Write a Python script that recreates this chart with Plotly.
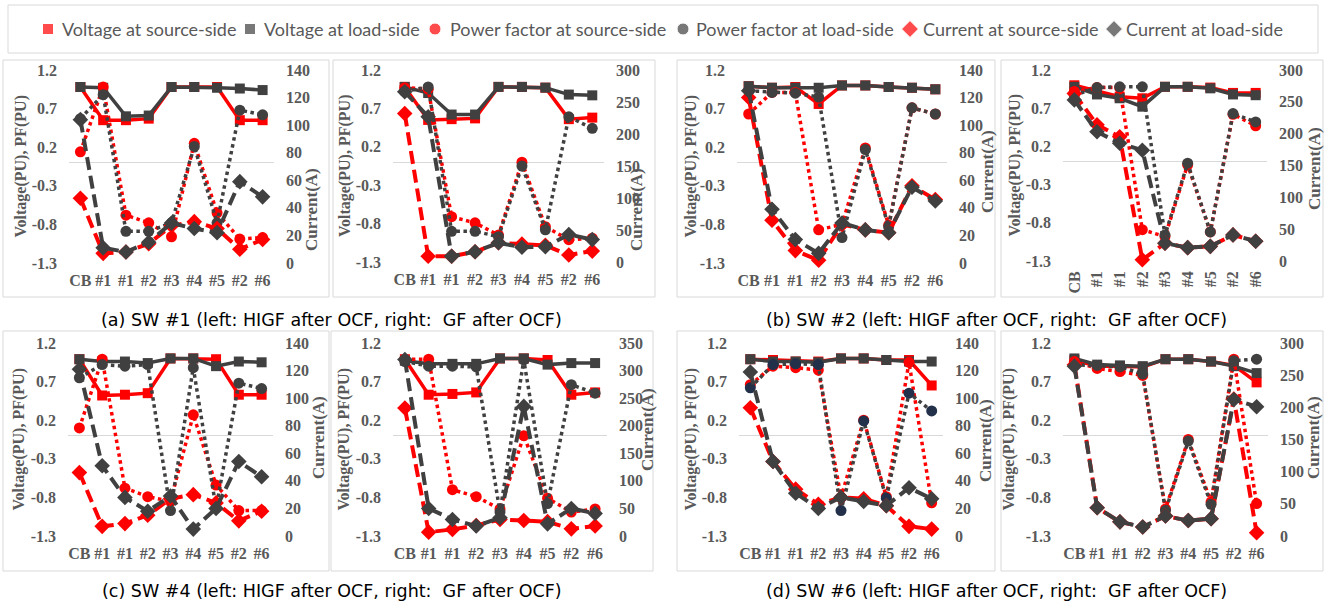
import plotly.graph_objects as go

W, H = 1327, 606

CATEGORIES = ["CB", "#1", "#1", "#2", "#3", "#4", "#5", "#2", "#6"]
LEFT_TICKS = [-1.3, -0.8, -0.3, 0.2, 0.7, 1.2]
SERIES_NAMES = ["Voltage at source-side", "Voltage at load-side",
                "Power factor at source-side", "Power factor at load-side",
                "Current at source-side", "Current at load-side"]
CAPTIONS = ["(a) SW #1 (left: HIGF after OCF, right:\u00a0 GF after OCF)",
            "(b) SW #2 (left: HIGF after OCF, right:\u00a0 GF after OCF)",
            "(c) SW #4 (left: HIGF after OCF, right:\u00a0 GF after OCF)",
            "(d) SW #6 (left: HIGF after OCF, right:\u00a0 GF after OCF)"]
LEFT_TITLE = "Voltage(PU), PF(PU)"
RIGHT_TITLE = "Current(A)"

A1_V_SRC = [0.98, 0.55, 0.55, 0.57, 0.98, 0.98, 0.98, 0.55, 0.55]
A1_V_LOAD = [0.98, 0.97, 0.60, 0.61, 0.98, 0.98, 0.97, 0.96, 0.94]
A1_PF_SRC = [0.14, 0.98, -0.68, -0.78, -0.96, 0.25, -0.65, -0.99, -0.97]
A1_PF_LOAD = [0.57, 0.88, -0.89, -0.89, -0.78, 0.21, -0.78, 0.68, 0.62]
A1_I_SRC = [47, 7, 8, 14, 27, 30, 25, 10, 17]
A1_I_LOAD = [104, 11, 8, 15, 29, 25, 22, 59, 48]
A2_V_SRC = [0.98, 0.55, 0.56, 0.57, 0.98, 0.98, 0.97, 0.56, 0.58]
A2_V_LOAD = [0.98, 0.90, 0.62, 0.62, 0.98, 0.98, 0.97, 0.88, 0.87]
A2_PF_SRC = [0.97, 0.95, -0.71, -0.79, -0.95, 0.0, -0.84, -1.01, -0.99]
A2_PF_LOAD = [0.92, 0.98, -0.90, -0.90, -0.97, -0.05, -0.88, 0.59, 0.44]
A2_I_SRC = [232, 9, 9, 16, 30, 28, 26, 11, 17]
A2_I_LOAD = [266, 227, 9, 16, 30, 23, 24, 43, 35]
B1_V_SRC = [0.99, 0.97, 0.98, 0.76, 1.0, 1.0, 0.98, 0.97, 0.95]
B1_V_LOAD = [0.99, 0.97, 0.97, 0.97, 1.0, 1.0, 0.98, 0.97, 0.95]
B1_PF_SRC = [0.63, 0.91, 0.91, -0.87, -0.80, 0.19, -0.81, 0.71, 0.63]
B1_PF_LOAD = [0.93, 0.91, 0.90, 0.85, -0.97, 0.17, -0.83, 0.71, 0.63]
B1_I_SRC = [120, 31, 9, 2, 28, 24, 22, 56, 46]
B1_I_LOAD = [125, 39, 17, 7, 29, 24, 22, 55, 45]
B2_V_SRC = [1.0, 0.93, 0.85, 0.83, 0.98, 0.98, 0.97, 0.90, 0.90]
B2_V_LOAD = [0.98, 0.88, 0.83, 0.72, 0.98, 0.98, 0.96, 0.88, 0.87]
B2_PF_SRC = [0.92, 0.97, 0.97, -0.89, -0.98, -0.04, -0.92, 0.62, 0.47]
B2_PF_LOAD = [0.87, 0.97, 0.98, 0.98, -0.96, -0.02, -0.92, 0.63, 0.52]
B2_I_SRC = [263, 214, 195, 2, 28, 21, 23, 41, 31]
B2_I_LOAD = [253, 203, 185, 174, 28, 21, 23, 41, 31]
C1_V_SRC = [0.99, 0.52, 0.53, 0.55, 1.0, 1.0, 0.99, 0.53, 0.53]
C1_V_LOAD = [0.99, 0.96, 0.96, 0.94, 1.0, 1.0, 0.90, 0.96, 0.95]
C1_PF_SRC = [0.10, 0.99, -0.68, -0.79, -0.85, 0.27, -0.64, -0.97, -0.97]
C1_PF_LOAD = [0.75, 0.92, 0.90, 0.92, -0.97, 0.88, -0.94, 0.68, 0.61]
C1_I_SRC = [46, 7, 9, 15, 27, 30, 24, 11, 18]
C1_I_LOAD = [121, 51, 28, 18, 29, 5, 20, 54, 43]
C2_V_SRC = [0.99, 0.53, 0.54, 0.56, 1.0, 1.0, 0.98, 0.53, 0.56]
C2_V_LOAD = [0.97, 0.93, 0.93, 0.93, 1.0, 1.0, 0.92, 0.94, 0.94]
C2_PF_SRC = [0.99, 0.99, -0.70, -0.79, -0.95, 0.0, -0.81, -0.99, -0.95]
C2_PF_LOAD = [0.96, 0.90, 0.90, 0.89, -0.99, 0.98, -0.88, 0.66, 0.55]
C2_I_SRC = [232, 7, 12, 19, 30, 28, 26, 13, 18]
C2_I_LOAD = [320, 50, 30, 18, 33, 235, 22, 50, 41]
D1_V_SRC = [0.99, 0.98, 0.96, 0.96, 1.0, 1.0, 0.98, 0.98, 0.65]
D1_V_LOAD = [0.99, 0.96, 0.96, 0.95, 1.0, 1.0, 0.98, 0.96, 0.96]
D1_PF_SRC = [0.66, 0.90, 0.88, 0.85, -0.80, 0.20, -0.79, 0.95, -0.87]
D1_PF_LOAD = [0.62, 0.92, 0.93, 0.92, -0.97, 0.19, -0.81, 0.55, 0.32]
D1_I_SRC = [93, 54, 34, 23, 28, 27, 22, 7, 5]
D1_I_LOAD = [119, 54, 31, 20, 28, 25, 22, 35, 27]
D2_V_SRC = [0.98, 0.90, 0.90, 0.89, 0.99, 0.99, 0.96, 0.91, 0.69]
D2_V_LOAD = [1.0, 0.92, 0.91, 0.90, 0.99, 0.99, 0.96, 0.90, 0.81]
D2_PF_SRC = [0.96, 0.87, 0.83, 0.78, -0.95, -0.05, -0.86, 0.99, -0.88]
D2_PF_LOAD = [0.92, 0.91, 0.89, 0.80, -0.97, -0.07, -0.89, 0.97, 0.99]
D2_I_SRC = [266, 44, 22, 14, 31, 24, 27, 213, 5]
D2_I_LOAD = [264, 44, 22, 14, 31, 24, 27, 212, 201]

PANEL_SERIES = [
    (A1_V_SRC, A1_V_LOAD, A1_PF_SRC, A1_PF_LOAD, A1_I_SRC, A1_I_LOAD),
    (A2_V_SRC, A2_V_LOAD, A2_PF_SRC, A2_PF_LOAD, A2_I_SRC, A2_I_LOAD),
    (B1_V_SRC, B1_V_LOAD, B1_PF_SRC, B1_PF_LOAD, B1_I_SRC, B1_I_LOAD),
    (B2_V_SRC, B2_V_LOAD, B2_PF_SRC, B2_PF_LOAD, B2_I_SRC, B2_I_LOAD),
    (C1_V_SRC, C1_V_LOAD, C1_PF_SRC, C1_PF_LOAD, C1_I_SRC, C1_I_LOAD),
    (C2_V_SRC, C2_V_LOAD, C2_PF_SRC, C2_PF_LOAD, C2_I_SRC, C2_I_LOAD),
    (D1_V_SRC, D1_V_LOAD, D1_PF_SRC, D1_PF_LOAD, D1_I_SRC, D1_I_LOAD),
    (D2_V_SRC, D2_V_LOAD, D2_PF_SRC, D2_PF_LOAD, D2_I_SRC, D2_I_LOAD),
]
CURRENT_MAX = [140, 300, 140, 300, 140, 350, 140, 300]
CURRENT_STEP = [20, 50, 20, 50, 20, 50, 20, 50]

PLOT_RECTS = [(69, 274, 70, 263), (393, 604, 70, 262), (737, 947, 70, 263), (1063, 1267, 70, 261),
              (68, 273, 343, 536), (393, 607, 343, 536), (739, 943, 343, 536), (1063, 1268, 343, 536)]
BOXES = [(3, 329, 60, 297), (333, 655, 60, 297), (677, 995, 60, 297), (1001, 1323, 60, 297),
         (3, 329, 331, 571), (331, 653, 331, 571), (677, 995, 331, 571), (1001, 1323, 331, 571)]
LEFT_TITLE_X = [20, 345, 690, 1015, 18, 343, 690, 1008]
RIGHT_TITLE_POS = [(312, 210), (637, 210), (987, 172), (1314, 169),
                   (318, 438), (647, 430), (985, 440), (1313, 438)]
TICK_ANGLE = [0, 0, 0, -90, 0, 0, 0, 0]
CAPTION_POS = [(332, 320), (997, 320), (332, 591), (997, 591)]
LEGEND_MARK_X = [48, 250, 435, 683, 910, 1114]
LEGEND_TEXT_X = [60, 262, 448, 694, 921, 1124]
LEGEND_Y = 29

RED = "#FF0000"
DARK = "#404040"
GRAY_TXT = "#595959"
STYLES = [
    dict(color=RED, dash="solid", symbol="square", size=10, width=3.5, side="L"),
    dict(color=DARK, dash="solid", symbol="square", size=10, width=3.5, side="L"),
    dict(color=RED, dash="dot", symbol="circle", size=11, width=3.5, side="L"),
    dict(color=DARK, dash="dot", symbol="circle", size=11, width=3.5, side="L"),
    dict(color=RED, dash="13px,6px", symbol="diamond", size=12, width=4, side="R"),
    dict(color=DARK, dash="13px,6px", symbol="diamond", size=12, width=4, side="R"),
]
TICKFONT = dict(family="Liberation Serif, Times New Roman, serif", size=16, color=GRAY_TXT, weight="bold")


def aid(prefix, n):
    return prefix if n == 1 else f"{prefix}{n}"


def px(x):
    return x / W


def py(y):
    return 1 - y / H


fig = go.Figure()
layout = dict(width=W, height=H, margin=dict(l=0, r=0, t=0, b=0, pad=0, autoexpand=False),
              autosize=False, paper_bgcolor="white", plot_bgcolor="rgba(0,0,0,0)", showlegend=False)
shapes = []
annotations = []
xs = list(range(len(CATEGORIES)))

for k, series in enumerate(PANEL_SERIES):
    xn, yl, yr = k + 1, 2 * k + 1, 2 * k + 2
    for st, vals in zip(STYLES, series):
        mcolor = st["color"]
        if k == 6 and st["symbol"] == "circle" and st["color"] == DARK:
            mcolor = "#22304a"
        fig.add_trace(go.Scatter(
            x=xs, y=vals, mode="lines+markers",
            xaxis=aid("x", xn), yaxis=aid("y", yl if st["side"] == "L" else yr),
            line=dict(color=st["color"], width=st["width"], dash=st["dash"]),
            marker=dict(symbol=st["symbol"], size=st["size"], color=mcolor),
            cliponaxis=False, showlegend=False, hoverinfo="skip"))
    x0, x1, yt, yb = PLOT_RECTS[k]
    layout[aid("xaxis", xn)] = dict(
        domain=[px(x0), px(x1)], anchor=aid("y", yl), range=[-0.5, len(CATEGORIES) - 0.5],
        tickvals=xs, ticktext=CATEGORIES, tickangle=TICK_ANGLE[k], showgrid=False,
        zeroline=False, showline=False, ticks="", tickfont=TICKFONT, ticklabelstandoff=6,
        fixedrange=True, automargin=False)
    layout[aid("yaxis", yl)] = dict(
        domain=[py(yb), py(yt)], anchor=aid("x", xn), range=[-1.3, 1.2],
        tickvals=LEFT_TICKS, ticktext=[f"{v:.1f}" for v in LEFT_TICKS], showgrid=False,
        zeroline=True, zerolinecolor="#d9d9d9", zerolinewidth=1, showline=False, ticks="",
        tickfont=TICKFONT, ticklabelstandoff=11, fixedrange=True, automargin=False)
    ctk = list(range(0, CURRENT_MAX[k] + 1, CURRENT_STEP[k]))
    layout[aid("yaxis", yr)] = dict(
        overlaying=aid("y", yl), side="right", anchor=aid("x", xn), range=[0, CURRENT_MAX[k]],
        tickvals=ctk, ticktext=[str(v) for v in ctk], showgrid=False, zeroline=False,
        showline=False, ticks="", tickfont=TICKFONT, ticklabelstandoff=11, fixedrange=True,
        automargin=False)
    bx0, bx1, by0, by1 = BOXES[k]
    shapes.append(dict(type="rect", xref="paper", yref="paper", x0=px(bx0), x1=px(bx1),
                       y0=py(by1), y1=py(by0), line=dict(color="#d9d9d9", width=1), layer="below"))
    annotations.append(dict(text=LEFT_TITLE, x=px(LEFT_TITLE_X[k]), y=py((yt + yb) / 2),
                            xref="paper", yref="paper", textangle=-90, showarrow=False,
                            xanchor="center", yanchor="middle",
                            font=dict(family=TICKFONT["family"], size=16, color=GRAY_TXT, weight="bold")))
    rx, ry = RIGHT_TITLE_POS[k]
    annotations.append(dict(text=RIGHT_TITLE, x=px(rx), y=py(ry), xref="paper", yref="paper",
                            textangle=-90, showarrow=False, xanchor="center", yanchor="middle",
                            font=dict(family=TICKFONT["family"], size=17, color=GRAY_TXT, weight="bold")))

for cap, (cx, cy) in zip(CAPTIONS, CAPTION_POS):
    annotations.append(dict(text=cap, x=px(cx), y=py(cy), xref="paper", yref="paper",
                            showarrow=False, xanchor="center", yanchor="middle",
                            font=dict(family="DejaVu Sans, sans-serif", size=17.5, color="#000000")))

shapes.append(dict(type="rect", xref="paper", yref="paper", x0=px(8), x1=px(1318),
                   y0=py(53), y1=py(5), line=dict(color="#d9d9d9", width=1)))
LEG_AX = len(PANEL_SERIES) + 1
LEG_AY = 2 * len(PANEL_SERIES) + 1
fig.add_trace(go.Scatter(
    x=LEGEND_MARK_X, y=[LEGEND_Y] * len(LEGEND_MARK_X), mode="markers",
    xaxis=aid("x", LEG_AX), yaxis=aid("y", LEG_AY),
    marker=dict(symbol=[s["symbol"] for s in STYLES], color=[s["color"] for s in STYLES],
                size=[11, 11, 12, 12, 13, 13]),
    showlegend=False, hoverinfo="skip", cliponaxis=False))
layout[aid("xaxis", LEG_AX)] = dict(domain=[0, 1], range=[0, W], visible=False, anchor=aid("y", LEG_AY),
                                    fixedrange=True, automargin=False)
layout[aid("yaxis", LEG_AY)] = dict(domain=[0, 1], range=[H, 0], visible=False, anchor=aid("x", LEG_AX),
                                    fixedrange=True, automargin=False)
for name, tx in zip(SERIES_NAMES, LEGEND_TEXT_X):
    annotations.append(dict(text=name, x=px(tx), y=py(LEGEND_Y), xref="paper", yref="paper",
                            showarrow=False, xanchor="left", yanchor="middle",
                            font=dict(family="Lato, sans-serif", size=18, color=GRAY_TXT)))

layout["shapes"] = shapes
layout["annotations"] = annotations
fig.update_layout(**layout)
fig.write_html("out.html", config={"displayModeBar": False},
               post_script="document.documentElement.style.margin='0';"
                           "document.body.style.margin='0';document.body.style.padding='0';")
